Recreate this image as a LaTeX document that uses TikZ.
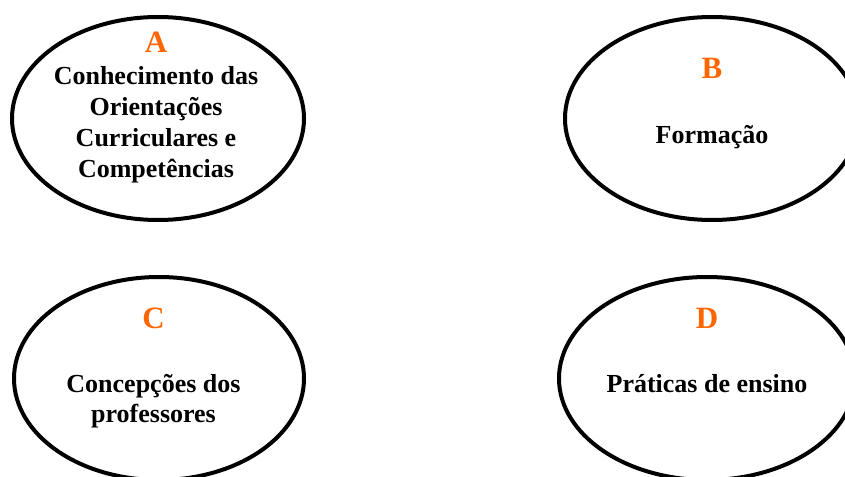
\documentclass[tikz,border=0pt]{standalone}
\usepackage{fontspec}
\setmainfont{Liberation Serif}
\usetikzlibrary{shapes.geometric}
\definecolor{lblorange}{HTML}{FF6600}
\begin{document}
\begin{tikzpicture}[x=1pt,y=-1pt,
  oval/.style={ellipse,draw,line width=4pt,minimum height=203pt,inner sep=0pt},
  letter/.style={anchor=base,text=lblorange,font=\fontsize{31}{31}\selectfont\bfseries,inner sep=0pt},
  body/.style={anchor=base,font=\fontsize{26}{30}\selectfont\bfseries,inner sep=0pt}]
\useasboundingbox (0,0) rectangle (845,476);
\clip (0,0) rectangle (845,476);
\node[oval,minimum width=292pt] (ovA) at (158,118.5) {};
\node[oval,minimum width=294pt] (ovB) at (712,118.5) {};
\node[oval,minimum width=290pt] (ovC) at (159,378.5) {};
\node[oval,minimum width=296pt] (ovD) at (707,378.5) {};
% A
\node[letter] (lA) at (156,53) {A};
\node[body] (a1) at (156,85) {Conhecimento das};
\node[body] (a2) at (156,115.7) {Orientações};
\node[body] (a3) at (156,146.4) {Curriculares e};
\node[body] (a4) at (156,177) {Competências};
% B
\node[letter] (lB) at (712,79) {B};
\node[body] (b1) at (712,143) {Formação};
% C
\node[letter] (lC) at (153.5,328) {C};
\node[body] (c1) at (153.5,392) {Concepções dos};
\node[body] (c2) at (153.5,422) {professores};
% D
\node[letter] (lD) at (707,328) {D};
\node[body] (d1) at (707,392) {Práticas de ensino};
\end{tikzpicture}
\end{document}
